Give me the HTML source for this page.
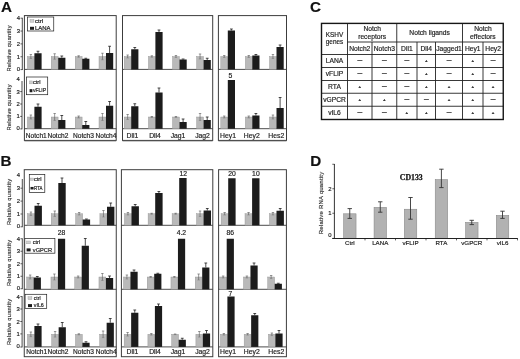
<!DOCTYPE html>
<html lang="en">
<head>
<meta charset="utf-8">
<title>Figure</title>
<style>html,body{margin:0;padding:0;background:#fff}svg{display:block;will-change:transform;opacity:0.999}</style>
</head>
<body>
<svg width="520" height="359" viewBox="0 0 520 359" font-family='"Liberation Sans", sans-serif'>
<rect x="0.00" y="0.00" width="520.00" height="359.00" fill="#fff" stroke="none" stroke-width="0.5"/>
<g opacity="0.999">
<text x="1.00" y="12.10" font-size="15.2" text-anchor="start" font-weight="bold" fill="#111" stroke="#111" stroke-width="0.18" >A</text>
<text x="0.60" y="166.30" font-size="15.2" text-anchor="start" font-weight="bold" fill="#111" stroke="#111" stroke-width="0.18" >B</text>
<text x="310.10" y="12.00" font-size="15.2" text-anchor="start" font-weight="bold" fill="#111" stroke="#111" stroke-width="0.18" >C</text>
<text x="310.20" y="166.30" font-size="15.2" text-anchor="start" font-weight="bold" fill="#111" stroke="#111" stroke-width="0.18" >D</text>
<line x1="24.40" y1="69.40" x2="116.20" y2="69.40" stroke="#1e1e1e" stroke-width="0.8"/>
<line x1="24.40" y1="128.70" x2="116.20" y2="128.70" stroke="#1e1e1e" stroke-width="0.8"/>
<line x1="122.50" y1="69.40" x2="212.70" y2="69.40" stroke="#1e1e1e" stroke-width="0.8"/>
<line x1="122.50" y1="128.70" x2="212.70" y2="128.70" stroke="#1e1e1e" stroke-width="0.8"/>
<line x1="218.40" y1="69.40" x2="286.50" y2="69.40" stroke="#1e1e1e" stroke-width="0.8"/>
<line x1="218.40" y1="128.70" x2="286.50" y2="128.70" stroke="#1e1e1e" stroke-width="0.8"/>
<rect x="27.40" y="56.50" width="6.90" height="12.90" fill="#b9b9b9" stroke="#8f8f8f" stroke-width="0.4"/>
<rect x="34.40" y="53.25" width="7.20" height="16.15" fill="#1c1c1c" stroke="none" stroke-width="0.5"/>
<line x1="30.85" y1="54.50" x2="30.85" y2="58.50" stroke="#555" stroke-width="0.6"/>
<line x1="29.65" y1="54.50" x2="32.05" y2="54.50" stroke="#555" stroke-width="0.6"/>
<line x1="29.65" y1="58.50" x2="32.05" y2="58.50" stroke="#777" stroke-width="0.5"/>
<line x1="38.00" y1="51.25" x2="38.00" y2="53.25" stroke="#1e1e1e" stroke-width="0.8"/>
<line x1="36.60" y1="51.25" x2="39.40" y2="51.25" stroke="#1e1e1e" stroke-width="0.8"/>
<rect x="51.20" y="56.50" width="6.90" height="12.90" fill="#b9b9b9" stroke="#8f8f8f" stroke-width="0.4"/>
<rect x="58.20" y="57.75" width="7.20" height="11.65" fill="#1c1c1c" stroke="none" stroke-width="0.5"/>
<line x1="54.65" y1="53.75" x2="54.65" y2="59.25" stroke="#555" stroke-width="0.6"/>
<line x1="53.45" y1="53.75" x2="55.85" y2="53.75" stroke="#555" stroke-width="0.6"/>
<line x1="53.45" y1="59.25" x2="55.85" y2="59.25" stroke="#777" stroke-width="0.5"/>
<line x1="61.80" y1="56.00" x2="61.80" y2="57.75" stroke="#1e1e1e" stroke-width="0.8"/>
<line x1="60.40" y1="56.00" x2="63.20" y2="56.00" stroke="#1e1e1e" stroke-width="0.8"/>
<rect x="75.20" y="56.50" width="6.90" height="12.90" fill="#b9b9b9" stroke="#8f8f8f" stroke-width="0.4"/>
<rect x="82.20" y="58.75" width="7.20" height="10.65" fill="#1c1c1c" stroke="none" stroke-width="0.5"/>
<line x1="78.65" y1="55.75" x2="78.65" y2="57.25" stroke="#555" stroke-width="0.6"/>
<line x1="77.45" y1="55.75" x2="79.85" y2="55.75" stroke="#555" stroke-width="0.6"/>
<line x1="77.45" y1="57.25" x2="79.85" y2="57.25" stroke="#777" stroke-width="0.5"/>
<line x1="85.80" y1="58.25" x2="85.80" y2="58.75" stroke="#1e1e1e" stroke-width="0.8"/>
<line x1="84.40" y1="58.25" x2="87.20" y2="58.25" stroke="#1e1e1e" stroke-width="0.8"/>
<rect x="99.00" y="56.50" width="6.90" height="12.90" fill="#b9b9b9" stroke="#8f8f8f" stroke-width="0.4"/>
<rect x="106.00" y="53.00" width="7.20" height="16.40" fill="#1c1c1c" stroke="none" stroke-width="0.5"/>
<line x1="102.45" y1="53.25" x2="102.45" y2="59.75" stroke="#555" stroke-width="0.6"/>
<line x1="101.25" y1="53.25" x2="103.65" y2="53.25" stroke="#555" stroke-width="0.6"/>
<line x1="101.25" y1="59.75" x2="103.65" y2="59.75" stroke="#777" stroke-width="0.5"/>
<line x1="109.60" y1="46.25" x2="109.60" y2="53.00" stroke="#1e1e1e" stroke-width="0.8"/>
<line x1="108.20" y1="46.25" x2="111.00" y2="46.25" stroke="#1e1e1e" stroke-width="0.8"/>
<rect x="124.20" y="56.50" width="6.90" height="12.90" fill="#b9b9b9" stroke="#8f8f8f" stroke-width="0.4"/>
<rect x="131.20" y="49.25" width="7.20" height="20.15" fill="#1c1c1c" stroke="none" stroke-width="0.5"/>
<line x1="127.65" y1="55.00" x2="127.65" y2="58.00" stroke="#555" stroke-width="0.6"/>
<line x1="126.45" y1="55.00" x2="128.85" y2="55.00" stroke="#555" stroke-width="0.6"/>
<line x1="126.45" y1="58.00" x2="128.85" y2="58.00" stroke="#777" stroke-width="0.5"/>
<line x1="134.80" y1="47.50" x2="134.80" y2="49.25" stroke="#1e1e1e" stroke-width="0.8"/>
<line x1="133.40" y1="47.50" x2="136.20" y2="47.50" stroke="#1e1e1e" stroke-width="0.8"/>
<rect x="148.40" y="56.50" width="6.90" height="12.90" fill="#b9b9b9" stroke="#8f8f8f" stroke-width="0.4"/>
<rect x="155.40" y="32.00" width="7.20" height="37.40" fill="#1c1c1c" stroke="none" stroke-width="0.5"/>
<line x1="151.85" y1="55.75" x2="151.85" y2="57.25" stroke="#555" stroke-width="0.6"/>
<line x1="150.65" y1="55.75" x2="153.05" y2="55.75" stroke="#555" stroke-width="0.6"/>
<line x1="150.65" y1="57.25" x2="153.05" y2="57.25" stroke="#777" stroke-width="0.5"/>
<line x1="159.00" y1="30.00" x2="159.00" y2="32.00" stroke="#1e1e1e" stroke-width="0.8"/>
<line x1="157.60" y1="30.00" x2="160.40" y2="30.00" stroke="#1e1e1e" stroke-width="0.8"/>
<rect x="172.50" y="56.50" width="6.90" height="12.90" fill="#b9b9b9" stroke="#8f8f8f" stroke-width="0.4"/>
<rect x="179.50" y="59.50" width="7.20" height="9.90" fill="#1c1c1c" stroke="none" stroke-width="0.5"/>
<line x1="175.95" y1="55.50" x2="175.95" y2="57.50" stroke="#555" stroke-width="0.6"/>
<line x1="174.75" y1="55.50" x2="177.15" y2="55.50" stroke="#555" stroke-width="0.6"/>
<line x1="174.75" y1="57.50" x2="177.15" y2="57.50" stroke="#777" stroke-width="0.5"/>
<line x1="183.10" y1="59.00" x2="183.10" y2="59.50" stroke="#1e1e1e" stroke-width="0.8"/>
<line x1="181.70" y1="59.00" x2="184.50" y2="59.00" stroke="#1e1e1e" stroke-width="0.8"/>
<rect x="196.60" y="56.50" width="6.90" height="12.90" fill="#b9b9b9" stroke="#8f8f8f" stroke-width="0.4"/>
<rect x="203.60" y="60.00" width="7.20" height="9.40" fill="#1c1c1c" stroke="none" stroke-width="0.5"/>
<line x1="200.05" y1="54.00" x2="200.05" y2="59.00" stroke="#555" stroke-width="0.6"/>
<line x1="198.85" y1="54.00" x2="201.25" y2="54.00" stroke="#555" stroke-width="0.6"/>
<line x1="198.85" y1="59.00" x2="201.25" y2="59.00" stroke="#777" stroke-width="0.5"/>
<line x1="207.20" y1="58.25" x2="207.20" y2="60.00" stroke="#1e1e1e" stroke-width="0.8"/>
<line x1="205.80" y1="58.25" x2="208.60" y2="58.25" stroke="#1e1e1e" stroke-width="0.8"/>
<rect x="220.80" y="56.50" width="6.90" height="12.90" fill="#b9b9b9" stroke="#8f8f8f" stroke-width="0.4"/>
<rect x="227.80" y="30.50" width="7.20" height="38.90" fill="#1c1c1c" stroke="none" stroke-width="0.5"/>
<line x1="224.25" y1="55.50" x2="224.25" y2="57.50" stroke="#555" stroke-width="0.6"/>
<line x1="223.05" y1="55.50" x2="225.45" y2="55.50" stroke="#555" stroke-width="0.6"/>
<line x1="223.05" y1="57.50" x2="225.45" y2="57.50" stroke="#777" stroke-width="0.5"/>
<line x1="231.40" y1="29.00" x2="231.40" y2="30.50" stroke="#1e1e1e" stroke-width="0.8"/>
<line x1="230.00" y1="29.00" x2="232.80" y2="29.00" stroke="#1e1e1e" stroke-width="0.8"/>
<rect x="245.30" y="56.50" width="6.90" height="12.90" fill="#b9b9b9" stroke="#8f8f8f" stroke-width="0.4"/>
<rect x="252.30" y="55.50" width="7.20" height="13.90" fill="#1c1c1c" stroke="none" stroke-width="0.5"/>
<line x1="248.75" y1="55.50" x2="248.75" y2="57.50" stroke="#555" stroke-width="0.6"/>
<line x1="247.55" y1="55.50" x2="249.95" y2="55.50" stroke="#555" stroke-width="0.6"/>
<line x1="247.55" y1="57.50" x2="249.95" y2="57.50" stroke="#777" stroke-width="0.5"/>
<line x1="255.90" y1="54.50" x2="255.90" y2="55.50" stroke="#1e1e1e" stroke-width="0.8"/>
<line x1="254.50" y1="54.50" x2="257.30" y2="54.50" stroke="#1e1e1e" stroke-width="0.8"/>
<rect x="269.50" y="56.50" width="6.90" height="12.90" fill="#b9b9b9" stroke="#8f8f8f" stroke-width="0.4"/>
<rect x="276.50" y="47.00" width="7.20" height="22.40" fill="#1c1c1c" stroke="none" stroke-width="0.5"/>
<line x1="272.95" y1="54.50" x2="272.95" y2="58.50" stroke="#555" stroke-width="0.6"/>
<line x1="271.75" y1="54.50" x2="274.15" y2="54.50" stroke="#555" stroke-width="0.6"/>
<line x1="271.75" y1="58.50" x2="274.15" y2="58.50" stroke="#777" stroke-width="0.5"/>
<line x1="280.10" y1="45.00" x2="280.10" y2="47.00" stroke="#1e1e1e" stroke-width="0.8"/>
<line x1="278.70" y1="45.00" x2="281.50" y2="45.00" stroke="#1e1e1e" stroke-width="0.8"/>
<rect x="27.40" y="117.00" width="6.90" height="11.70" fill="#b9b9b9" stroke="#8f8f8f" stroke-width="0.4"/>
<rect x="34.40" y="106.75" width="7.20" height="21.95" fill="#1c1c1c" stroke="none" stroke-width="0.5"/>
<line x1="30.85" y1="115.00" x2="30.85" y2="119.00" stroke="#555" stroke-width="0.6"/>
<line x1="29.65" y1="115.00" x2="32.05" y2="115.00" stroke="#555" stroke-width="0.6"/>
<line x1="29.65" y1="119.00" x2="32.05" y2="119.00" stroke="#777" stroke-width="0.5"/>
<line x1="38.00" y1="104.00" x2="38.00" y2="106.75" stroke="#1e1e1e" stroke-width="0.8"/>
<line x1="36.60" y1="104.00" x2="39.40" y2="104.00" stroke="#1e1e1e" stroke-width="0.8"/>
<rect x="51.20" y="117.00" width="6.90" height="11.70" fill="#b9b9b9" stroke="#8f8f8f" stroke-width="0.4"/>
<rect x="58.20" y="120.00" width="7.20" height="8.70" fill="#1c1c1c" stroke="none" stroke-width="0.5"/>
<line x1="54.65" y1="113.50" x2="54.65" y2="120.50" stroke="#555" stroke-width="0.6"/>
<line x1="53.45" y1="113.50" x2="55.85" y2="113.50" stroke="#555" stroke-width="0.6"/>
<line x1="53.45" y1="120.50" x2="55.85" y2="120.50" stroke="#777" stroke-width="0.5"/>
<line x1="61.80" y1="115.50" x2="61.80" y2="120.00" stroke="#1e1e1e" stroke-width="0.8"/>
<line x1="60.40" y1="115.50" x2="63.20" y2="115.50" stroke="#1e1e1e" stroke-width="0.8"/>
<rect x="75.20" y="117.00" width="6.90" height="11.70" fill="#b9b9b9" stroke="#8f8f8f" stroke-width="0.4"/>
<rect x="82.20" y="125.00" width="7.20" height="3.70" fill="#1c1c1c" stroke="none" stroke-width="0.5"/>
<line x1="78.65" y1="116.00" x2="78.65" y2="118.00" stroke="#555" stroke-width="0.6"/>
<line x1="77.45" y1="116.00" x2="79.85" y2="116.00" stroke="#555" stroke-width="0.6"/>
<line x1="77.45" y1="118.00" x2="79.85" y2="118.00" stroke="#777" stroke-width="0.5"/>
<line x1="85.80" y1="121.50" x2="85.80" y2="125.00" stroke="#1e1e1e" stroke-width="0.8"/>
<line x1="84.40" y1="121.50" x2="87.20" y2="121.50" stroke="#1e1e1e" stroke-width="0.8"/>
<rect x="99.00" y="117.00" width="6.90" height="11.70" fill="#b9b9b9" stroke="#8f8f8f" stroke-width="0.4"/>
<rect x="106.00" y="105.75" width="7.20" height="22.95" fill="#1c1c1c" stroke="none" stroke-width="0.5"/>
<line x1="102.45" y1="113.50" x2="102.45" y2="120.50" stroke="#555" stroke-width="0.6"/>
<line x1="101.25" y1="113.50" x2="103.65" y2="113.50" stroke="#555" stroke-width="0.6"/>
<line x1="101.25" y1="120.50" x2="103.65" y2="120.50" stroke="#777" stroke-width="0.5"/>
<line x1="109.60" y1="101.50" x2="109.60" y2="105.75" stroke="#1e1e1e" stroke-width="0.8"/>
<line x1="108.20" y1="101.50" x2="111.00" y2="101.50" stroke="#1e1e1e" stroke-width="0.8"/>
<rect x="124.20" y="117.00" width="6.90" height="11.70" fill="#b9b9b9" stroke="#8f8f8f" stroke-width="0.4"/>
<rect x="131.20" y="106.25" width="7.20" height="22.45" fill="#1c1c1c" stroke="none" stroke-width="0.5"/>
<line x1="127.65" y1="114.50" x2="127.65" y2="119.50" stroke="#555" stroke-width="0.6"/>
<line x1="126.45" y1="114.50" x2="128.85" y2="114.50" stroke="#555" stroke-width="0.6"/>
<line x1="126.45" y1="119.50" x2="128.85" y2="119.50" stroke="#777" stroke-width="0.5"/>
<line x1="134.80" y1="103.75" x2="134.80" y2="106.25" stroke="#1e1e1e" stroke-width="0.8"/>
<line x1="133.40" y1="103.75" x2="136.20" y2="103.75" stroke="#1e1e1e" stroke-width="0.8"/>
<rect x="148.40" y="117.00" width="6.90" height="11.70" fill="#b9b9b9" stroke="#8f8f8f" stroke-width="0.4"/>
<rect x="155.40" y="92.50" width="7.20" height="36.20" fill="#1c1c1c" stroke="none" stroke-width="0.5"/>
<line x1="151.85" y1="116.50" x2="151.85" y2="117.50" stroke="#555" stroke-width="0.6"/>
<line x1="150.65" y1="116.50" x2="153.05" y2="116.50" stroke="#555" stroke-width="0.6"/>
<line x1="150.65" y1="117.50" x2="153.05" y2="117.50" stroke="#777" stroke-width="0.5"/>
<line x1="159.00" y1="88.00" x2="159.00" y2="92.50" stroke="#1e1e1e" stroke-width="0.8"/>
<line x1="157.60" y1="88.00" x2="160.40" y2="88.00" stroke="#1e1e1e" stroke-width="0.8"/>
<rect x="172.50" y="117.00" width="6.90" height="11.70" fill="#b9b9b9" stroke="#8f8f8f" stroke-width="0.4"/>
<rect x="179.50" y="122.00" width="7.20" height="6.70" fill="#1c1c1c" stroke="none" stroke-width="0.5"/>
<line x1="175.95" y1="116.50" x2="175.95" y2="117.50" stroke="#555" stroke-width="0.6"/>
<line x1="174.75" y1="116.50" x2="177.15" y2="116.50" stroke="#555" stroke-width="0.6"/>
<line x1="174.75" y1="117.50" x2="177.15" y2="117.50" stroke="#777" stroke-width="0.5"/>
<line x1="183.10" y1="119.00" x2="183.10" y2="122.00" stroke="#1e1e1e" stroke-width="0.8"/>
<line x1="181.70" y1="119.00" x2="184.50" y2="119.00" stroke="#1e1e1e" stroke-width="0.8"/>
<rect x="196.60" y="117.00" width="6.90" height="11.70" fill="#b9b9b9" stroke="#8f8f8f" stroke-width="0.4"/>
<rect x="203.60" y="120.00" width="7.20" height="8.70" fill="#1c1c1c" stroke="none" stroke-width="0.5"/>
<line x1="200.05" y1="113.50" x2="200.05" y2="120.50" stroke="#555" stroke-width="0.6"/>
<line x1="198.85" y1="113.50" x2="201.25" y2="113.50" stroke="#555" stroke-width="0.6"/>
<line x1="198.85" y1="120.50" x2="201.25" y2="120.50" stroke="#777" stroke-width="0.5"/>
<line x1="207.20" y1="117.00" x2="207.20" y2="120.00" stroke="#1e1e1e" stroke-width="0.8"/>
<line x1="205.80" y1="117.00" x2="208.60" y2="117.00" stroke="#1e1e1e" stroke-width="0.8"/>
<rect x="220.80" y="117.00" width="6.90" height="11.70" fill="#b9b9b9" stroke="#8f8f8f" stroke-width="0.4"/>
<rect x="227.80" y="80.00" width="7.20" height="48.70" fill="#1c1c1c" stroke="none" stroke-width="0.5"/>
<line x1="224.25" y1="116.00" x2="224.25" y2="118.00" stroke="#555" stroke-width="0.6"/>
<line x1="223.05" y1="116.00" x2="225.45" y2="116.00" stroke="#555" stroke-width="0.6"/>
<line x1="223.05" y1="118.00" x2="225.45" y2="118.00" stroke="#777" stroke-width="0.5"/>
<rect x="245.30" y="117.00" width="6.90" height="11.70" fill="#b9b9b9" stroke="#8f8f8f" stroke-width="0.4"/>
<rect x="252.30" y="115.50" width="7.20" height="13.20" fill="#1c1c1c" stroke="none" stroke-width="0.5"/>
<line x1="248.75" y1="116.00" x2="248.75" y2="118.00" stroke="#555" stroke-width="0.6"/>
<line x1="247.55" y1="116.00" x2="249.95" y2="116.00" stroke="#555" stroke-width="0.6"/>
<line x1="247.55" y1="118.00" x2="249.95" y2="118.00" stroke="#777" stroke-width="0.5"/>
<line x1="255.90" y1="113.50" x2="255.90" y2="115.50" stroke="#1e1e1e" stroke-width="0.8"/>
<line x1="254.50" y1="113.50" x2="257.30" y2="113.50" stroke="#1e1e1e" stroke-width="0.8"/>
<rect x="269.50" y="117.00" width="6.90" height="11.70" fill="#b9b9b9" stroke="#8f8f8f" stroke-width="0.4"/>
<rect x="276.50" y="108.00" width="7.20" height="20.70" fill="#1c1c1c" stroke="none" stroke-width="0.5"/>
<line x1="272.95" y1="115.00" x2="272.95" y2="119.00" stroke="#555" stroke-width="0.6"/>
<line x1="271.75" y1="115.00" x2="274.15" y2="115.00" stroke="#555" stroke-width="0.6"/>
<line x1="271.75" y1="119.00" x2="274.15" y2="119.00" stroke="#777" stroke-width="0.5"/>
<line x1="280.10" y1="97.50" x2="280.10" y2="108.00" stroke="#1e1e1e" stroke-width="0.8"/>
<line x1="278.70" y1="97.50" x2="281.50" y2="97.50" stroke="#1e1e1e" stroke-width="0.8"/>
<text x="230.50" y="78.00" font-size="6.8" text-anchor="middle" font-weight="normal" fill="#222" stroke="#222" stroke-width="0.18" >5</text>
<line x1="24.40" y1="141.40" x2="116.20" y2="141.40" stroke="#c4c4c4" stroke-width="1.0"/>
<rect x="24.40" y="15.60" width="91.80" height="124.80" fill="none" stroke="#3c3c3c" stroke-width="1.0"/>
<line x1="122.50" y1="141.40" x2="212.70" y2="141.40" stroke="#c4c4c4" stroke-width="1.0"/>
<rect x="122.50" y="15.60" width="90.20" height="124.80" fill="none" stroke="#3c3c3c" stroke-width="1.0"/>
<line x1="218.40" y1="141.40" x2="286.50" y2="141.40" stroke="#c4c4c4" stroke-width="1.0"/>
<rect x="218.40" y="15.60" width="68.10" height="124.80" fill="none" stroke="#3c3c3c" stroke-width="1.0"/>
<line x1="22.30" y1="17.80" x2="22.30" y2="70.00" stroke="#1e1e1e" stroke-width="0.8"/>
<line x1="20.50" y1="18.20" x2="22.30" y2="18.20" stroke="#1e1e1e" stroke-width="0.7"/>
<text x="20.10" y="20.20" font-size="5.9" text-anchor="end" font-weight="normal" fill="#222" stroke="#222" stroke-width="0.18" >4</text>
<line x1="20.50" y1="31.05" x2="22.30" y2="31.05" stroke="#1e1e1e" stroke-width="0.7"/>
<text x="20.10" y="33.05" font-size="5.9" text-anchor="end" font-weight="normal" fill="#222" stroke="#222" stroke-width="0.18" >3</text>
<line x1="20.50" y1="43.90" x2="22.30" y2="43.90" stroke="#1e1e1e" stroke-width="0.7"/>
<text x="20.10" y="45.90" font-size="5.9" text-anchor="end" font-weight="normal" fill="#222" stroke="#222" stroke-width="0.18" >2</text>
<line x1="20.50" y1="56.75" x2="22.30" y2="56.75" stroke="#1e1e1e" stroke-width="0.7"/>
<text x="20.10" y="58.75" font-size="5.9" text-anchor="end" font-weight="normal" fill="#222" stroke="#222" stroke-width="0.18" >1</text>
<line x1="20.50" y1="69.60" x2="22.30" y2="69.60" stroke="#1e1e1e" stroke-width="0.7"/>
<text x="20.10" y="70.60" font-size="5.9" text-anchor="end" font-weight="normal" fill="#222" stroke="#222" stroke-width="0.18" >0</text>
<text transform="translate(11.00,48.50) rotate(-90)" font-size="5.7" text-anchor="middle" fill="#3a3a3a" stroke="#3a3a3a" stroke-width="0.18" textLength="46" lengthAdjust="spacing">Relative quantity</text>
<line x1="22.00" y1="81.00" x2="22.00" y2="129.30" stroke="#1e1e1e" stroke-width="0.8"/>
<text x="19.80" y="81.30" font-size="5.9" text-anchor="end" font-weight="normal" fill="#222" stroke="#222" stroke-width="0.18" >4</text>
<line x1="20.20" y1="91.60" x2="22.00" y2="91.60" stroke="#1e1e1e" stroke-width="0.7"/>
<text x="19.80" y="93.60" font-size="5.9" text-anchor="end" font-weight="normal" fill="#222" stroke="#222" stroke-width="0.18" >3</text>
<line x1="20.20" y1="104.00" x2="22.00" y2="104.00" stroke="#1e1e1e" stroke-width="0.7"/>
<text x="19.80" y="106.00" font-size="5.9" text-anchor="end" font-weight="normal" fill="#222" stroke="#222" stroke-width="0.18" >2</text>
<line x1="20.20" y1="116.40" x2="22.00" y2="116.40" stroke="#1e1e1e" stroke-width="0.7"/>
<text x="19.80" y="118.40" font-size="5.9" text-anchor="end" font-weight="normal" fill="#222" stroke="#222" stroke-width="0.18" >1</text>
<line x1="20.20" y1="128.90" x2="22.00" y2="128.90" stroke="#1e1e1e" stroke-width="0.7"/>
<text x="19.80" y="129.90" font-size="5.9" text-anchor="end" font-weight="normal" fill="#222" stroke="#222" stroke-width="0.18" >0</text>
<text transform="translate(11.00,107.50) rotate(-90)" font-size="5.7" text-anchor="middle" fill="#3a3a3a" stroke="#3a3a3a" stroke-width="0.18" textLength="46" lengthAdjust="spacing">Relative quantity</text>
<rect x="27.50" y="17.00" width="26.25" height="14.00" fill="#fff" stroke="#1e1e1e" stroke-width="0.7"/>
<rect x="30.00" y="19.50" width="3.90" height="2.80" fill="#cfcfcf" stroke="#9a9a9a" stroke-width="0.4"/>
<text x="35.00" y="22.60" font-size="5" text-anchor="start" font-weight="normal" fill="#222" stroke="#222" stroke-width="0.18" textLength="8.2" lengthAdjust="spacingAndGlyphs">ctrl</text>
<rect x="30.00" y="26.80" width="4.00" height="3.00" fill="#1c1c1c" stroke="none" stroke-width="0.5"/>
<text x="35.00" y="30.00" font-size="5" text-anchor="start" font-weight="normal" fill="#222" stroke="#222" stroke-width="0.18" textLength="15.6" lengthAdjust="spacingAndGlyphs">LANA</text>
<rect x="26.40" y="77.00" width="21.30" height="17.70" fill="#fff" stroke="#1e1e1e" stroke-width="0.7"/>
<rect x="29.60" y="80.95" width="2.70" height="2.90" fill="#cfcfcf" stroke="#9a9a9a" stroke-width="0.4"/>
<text x="32.90" y="84.10" font-size="5" text-anchor="start" font-weight="normal" fill="#222" stroke="#222" stroke-width="0.18" textLength="7.6" lengthAdjust="spacingAndGlyphs">ctrl</text>
<rect x="29.60" y="89.15" width="2.80" height="3.10" fill="#1c1c1c" stroke="none" stroke-width="0.5"/>
<text x="32.90" y="92.40" font-size="5" text-anchor="start" font-weight="normal" fill="#222" stroke="#222" stroke-width="0.18" textLength="13.2" lengthAdjust="spacingAndGlyphs">vFLIP</text>
<text x="36.30" y="137.60" font-size="6.6" text-anchor="middle" font-weight="normal" fill="#222" stroke="#222" stroke-width="0.18" >Notch1</text>
<text x="57.90" y="137.60" font-size="6.6" text-anchor="middle" font-weight="normal" fill="#222" stroke="#222" stroke-width="0.18" >Notch2</text>
<text x="83.50" y="137.60" font-size="6.6" text-anchor="middle" font-weight="normal" fill="#222" stroke="#222" stroke-width="0.18" >Notch3</text>
<text x="106.00" y="137.60" font-size="6.6" text-anchor="middle" font-weight="normal" fill="#222" stroke="#222" stroke-width="0.18" >Notch4</text>
<text x="132.40" y="137.60" font-size="6.8" text-anchor="middle" font-weight="normal" fill="#222" stroke="#222" stroke-width="0.18" >Dll1</text>
<text x="155.00" y="137.60" font-size="6.8" text-anchor="middle" font-weight="normal" fill="#222" stroke="#222" stroke-width="0.18" >Dll4</text>
<text x="178.00" y="137.60" font-size="6.8" text-anchor="middle" font-weight="normal" fill="#222" stroke="#222" stroke-width="0.18" >Jag1</text>
<text x="202.50" y="137.60" font-size="6.8" text-anchor="middle" font-weight="normal" fill="#222" stroke="#222" stroke-width="0.18" >Jag2</text>
<text x="228.00" y="137.60" font-size="6.8" text-anchor="middle" font-weight="normal" fill="#222" stroke="#222" stroke-width="0.18" >Hey1</text>
<text x="251.75" y="137.60" font-size="6.8" text-anchor="middle" font-weight="normal" fill="#222" stroke="#222" stroke-width="0.18" >Hey2</text>
<text x="276.25" y="137.60" font-size="6.8" text-anchor="middle" font-weight="normal" fill="#222" stroke="#222" stroke-width="0.18" >Hes2</text>
<line x1="24.25" y1="225.30" x2="116.25" y2="225.30" stroke="#1e1e1e" stroke-width="0.8"/>
<line x1="24.25" y1="289.30" x2="116.25" y2="289.30" stroke="#1e1e1e" stroke-width="0.8"/>
<line x1="24.25" y1="346.90" x2="116.25" y2="346.90" stroke="#1e1e1e" stroke-width="0.8"/>
<line x1="121.40" y1="225.30" x2="212.80" y2="225.30" stroke="#1e1e1e" stroke-width="0.8"/>
<line x1="121.40" y1="289.30" x2="212.80" y2="289.30" stroke="#1e1e1e" stroke-width="0.8"/>
<line x1="121.40" y1="346.90" x2="212.80" y2="346.90" stroke="#1e1e1e" stroke-width="0.8"/>
<line x1="218.60" y1="225.30" x2="286.40" y2="225.30" stroke="#1e1e1e" stroke-width="0.8"/>
<line x1="218.60" y1="289.30" x2="286.40" y2="289.30" stroke="#1e1e1e" stroke-width="0.8"/>
<line x1="218.60" y1="346.90" x2="286.40" y2="346.90" stroke="#1e1e1e" stroke-width="0.8"/>
<rect x="27.40" y="213.75" width="7.10" height="11.55" fill="#b9b9b9" stroke="#8f8f8f" stroke-width="0.4"/>
<rect x="34.50" y="205.75" width="7.40" height="19.55" fill="#1c1c1c" stroke="none" stroke-width="0.5"/>
<line x1="30.95" y1="212.00" x2="30.95" y2="215.50" stroke="#555" stroke-width="0.6"/>
<line x1="29.75" y1="212.00" x2="32.15" y2="212.00" stroke="#555" stroke-width="0.6"/>
<line x1="29.75" y1="215.50" x2="32.15" y2="215.50" stroke="#777" stroke-width="0.5"/>
<line x1="38.20" y1="203.50" x2="38.20" y2="205.75" stroke="#1e1e1e" stroke-width="0.8"/>
<line x1="36.80" y1="203.50" x2="39.60" y2="203.50" stroke="#1e1e1e" stroke-width="0.8"/>
<rect x="51.20" y="213.75" width="7.10" height="11.55" fill="#b9b9b9" stroke="#8f8f8f" stroke-width="0.4"/>
<rect x="58.30" y="183.00" width="7.40" height="42.30" fill="#1c1c1c" stroke="none" stroke-width="0.5"/>
<line x1="54.75" y1="211.00" x2="54.75" y2="216.50" stroke="#555" stroke-width="0.6"/>
<line x1="53.55" y1="211.00" x2="55.95" y2="211.00" stroke="#555" stroke-width="0.6"/>
<line x1="53.55" y1="216.50" x2="55.95" y2="216.50" stroke="#777" stroke-width="0.5"/>
<line x1="62.00" y1="178.00" x2="62.00" y2="183.00" stroke="#1e1e1e" stroke-width="0.8"/>
<line x1="60.60" y1="178.00" x2="63.40" y2="178.00" stroke="#1e1e1e" stroke-width="0.8"/>
<rect x="75.60" y="213.75" width="7.10" height="11.55" fill="#b9b9b9" stroke="#8f8f8f" stroke-width="0.4"/>
<rect x="82.70" y="219.50" width="7.40" height="5.80" fill="#1c1c1c" stroke="none" stroke-width="0.5"/>
<line x1="79.15" y1="212.50" x2="79.15" y2="215.00" stroke="#555" stroke-width="0.6"/>
<line x1="77.95" y1="212.50" x2="80.35" y2="212.50" stroke="#555" stroke-width="0.6"/>
<line x1="77.95" y1="215.00" x2="80.35" y2="215.00" stroke="#777" stroke-width="0.5"/>
<line x1="86.40" y1="219.00" x2="86.40" y2="219.50" stroke="#1e1e1e" stroke-width="0.8"/>
<line x1="85.00" y1="219.00" x2="87.80" y2="219.00" stroke="#1e1e1e" stroke-width="0.8"/>
<rect x="99.90" y="213.75" width="7.10" height="11.55" fill="#b9b9b9" stroke="#8f8f8f" stroke-width="0.4"/>
<rect x="107.00" y="206.75" width="7.40" height="18.55" fill="#1c1c1c" stroke="none" stroke-width="0.5"/>
<line x1="103.45" y1="210.50" x2="103.45" y2="217.00" stroke="#555" stroke-width="0.6"/>
<line x1="102.25" y1="210.50" x2="104.65" y2="210.50" stroke="#555" stroke-width="0.6"/>
<line x1="102.25" y1="217.00" x2="104.65" y2="217.00" stroke="#777" stroke-width="0.5"/>
<line x1="110.70" y1="203.00" x2="110.70" y2="206.75" stroke="#1e1e1e" stroke-width="0.8"/>
<line x1="109.30" y1="203.00" x2="112.10" y2="203.00" stroke="#1e1e1e" stroke-width="0.8"/>
<rect x="124.40" y="213.75" width="7.10" height="11.55" fill="#b9b9b9" stroke="#8f8f8f" stroke-width="0.4"/>
<rect x="131.50" y="206.25" width="7.40" height="19.05" fill="#1c1c1c" stroke="none" stroke-width="0.5"/>
<line x1="127.95" y1="212.50" x2="127.95" y2="215.00" stroke="#555" stroke-width="0.6"/>
<line x1="126.75" y1="212.50" x2="129.15" y2="212.50" stroke="#555" stroke-width="0.6"/>
<line x1="126.75" y1="215.00" x2="129.15" y2="215.00" stroke="#777" stroke-width="0.5"/>
<line x1="135.20" y1="204.50" x2="135.20" y2="206.25" stroke="#1e1e1e" stroke-width="0.8"/>
<line x1="133.80" y1="204.50" x2="136.60" y2="204.50" stroke="#1e1e1e" stroke-width="0.8"/>
<rect x="148.10" y="213.75" width="7.10" height="11.55" fill="#b9b9b9" stroke="#8f8f8f" stroke-width="0.4"/>
<rect x="155.20" y="193.00" width="7.40" height="32.30" fill="#1c1c1c" stroke="none" stroke-width="0.5"/>
<line x1="151.65" y1="213.25" x2="151.65" y2="214.25" stroke="#555" stroke-width="0.6"/>
<line x1="150.45" y1="213.25" x2="152.85" y2="213.25" stroke="#555" stroke-width="0.6"/>
<line x1="150.45" y1="214.25" x2="152.85" y2="214.25" stroke="#777" stroke-width="0.5"/>
<line x1="158.90" y1="191.50" x2="158.90" y2="193.00" stroke="#1e1e1e" stroke-width="0.8"/>
<line x1="157.50" y1="191.50" x2="160.30" y2="191.50" stroke="#1e1e1e" stroke-width="0.8"/>
<rect x="172.10" y="213.75" width="7.10" height="11.55" fill="#b9b9b9" stroke="#8f8f8f" stroke-width="0.4"/>
<rect x="179.20" y="178.00" width="7.40" height="47.30" fill="#1c1c1c" stroke="none" stroke-width="0.5"/>
<line x1="175.65" y1="213.25" x2="175.65" y2="214.25" stroke="#555" stroke-width="0.6"/>
<line x1="174.45" y1="213.25" x2="176.85" y2="213.25" stroke="#555" stroke-width="0.6"/>
<line x1="174.45" y1="214.25" x2="176.85" y2="214.25" stroke="#777" stroke-width="0.5"/>
<rect x="196.50" y="213.75" width="7.10" height="11.55" fill="#b9b9b9" stroke="#8f8f8f" stroke-width="0.4"/>
<rect x="203.60" y="210.50" width="7.40" height="14.80" fill="#1c1c1c" stroke="none" stroke-width="0.5"/>
<line x1="200.05" y1="211.00" x2="200.05" y2="216.50" stroke="#555" stroke-width="0.6"/>
<line x1="198.85" y1="211.00" x2="201.25" y2="211.00" stroke="#555" stroke-width="0.6"/>
<line x1="198.85" y1="216.50" x2="201.25" y2="216.50" stroke="#777" stroke-width="0.5"/>
<line x1="207.30" y1="208.50" x2="207.30" y2="210.50" stroke="#1e1e1e" stroke-width="0.8"/>
<line x1="205.90" y1="208.50" x2="208.70" y2="208.50" stroke="#1e1e1e" stroke-width="0.8"/>
<rect x="221.10" y="213.75" width="7.10" height="11.55" fill="#b9b9b9" stroke="#8f8f8f" stroke-width="0.4"/>
<rect x="228.20" y="178.25" width="7.40" height="47.05" fill="#1c1c1c" stroke="none" stroke-width="0.5"/>
<line x1="224.65" y1="212.50" x2="224.65" y2="215.00" stroke="#555" stroke-width="0.6"/>
<line x1="223.45" y1="212.50" x2="225.85" y2="212.50" stroke="#555" stroke-width="0.6"/>
<line x1="223.45" y1="215.00" x2="225.85" y2="215.00" stroke="#777" stroke-width="0.5"/>
<rect x="245.00" y="213.75" width="7.10" height="11.55" fill="#b9b9b9" stroke="#8f8f8f" stroke-width="0.4"/>
<rect x="252.10" y="178.25" width="7.40" height="47.05" fill="#1c1c1c" stroke="none" stroke-width="0.5"/>
<line x1="248.55" y1="212.50" x2="248.55" y2="215.00" stroke="#555" stroke-width="0.6"/>
<line x1="247.35" y1="212.50" x2="249.75" y2="212.50" stroke="#555" stroke-width="0.6"/>
<line x1="247.35" y1="215.00" x2="249.75" y2="215.00" stroke="#777" stroke-width="0.5"/>
<rect x="269.40" y="213.75" width="7.10" height="11.55" fill="#b9b9b9" stroke="#8f8f8f" stroke-width="0.4"/>
<rect x="276.50" y="210.75" width="7.40" height="14.55" fill="#1c1c1c" stroke="none" stroke-width="0.5"/>
<line x1="272.95" y1="212.50" x2="272.95" y2="215.00" stroke="#555" stroke-width="0.6"/>
<line x1="271.75" y1="212.50" x2="274.15" y2="212.50" stroke="#555" stroke-width="0.6"/>
<line x1="271.75" y1="215.00" x2="274.15" y2="215.00" stroke="#777" stroke-width="0.5"/>
<line x1="280.20" y1="208.50" x2="280.20" y2="210.75" stroke="#1e1e1e" stroke-width="0.8"/>
<line x1="278.80" y1="208.50" x2="281.60" y2="208.50" stroke="#1e1e1e" stroke-width="0.8"/>
<text x="183.20" y="175.50" font-size="6.8" text-anchor="middle" font-weight="normal" fill="#222" stroke="#222" stroke-width="0.18" >12</text>
<text x="232.10" y="175.50" font-size="6.8" text-anchor="middle" font-weight="normal" fill="#222" stroke="#222" stroke-width="0.18" >20</text>
<text x="255.90" y="175.50" font-size="6.8" text-anchor="middle" font-weight="normal" fill="#222" stroke="#222" stroke-width="0.18" >10</text>
<rect x="26.70" y="277.00" width="6.90" height="12.30" fill="#b9b9b9" stroke="#8f8f8f" stroke-width="0.4"/>
<rect x="33.70" y="277.50" width="7.20" height="11.80" fill="#1c1c1c" stroke="none" stroke-width="0.5"/>
<line x1="30.15" y1="275.00" x2="30.15" y2="279.00" stroke="#555" stroke-width="0.6"/>
<line x1="28.95" y1="275.00" x2="31.35" y2="275.00" stroke="#555" stroke-width="0.6"/>
<line x1="28.95" y1="279.00" x2="31.35" y2="279.00" stroke="#777" stroke-width="0.5"/>
<line x1="37.30" y1="276.50" x2="37.30" y2="277.50" stroke="#1e1e1e" stroke-width="0.8"/>
<line x1="35.90" y1="276.50" x2="38.70" y2="276.50" stroke="#1e1e1e" stroke-width="0.8"/>
<rect x="50.95" y="277.00" width="6.90" height="12.30" fill="#b9b9b9" stroke="#8f8f8f" stroke-width="0.4"/>
<rect x="57.95" y="238.75" width="7.20" height="50.55" fill="#1c1c1c" stroke="none" stroke-width="0.5"/>
<line x1="54.40" y1="274.00" x2="54.40" y2="280.00" stroke="#555" stroke-width="0.6"/>
<line x1="53.20" y1="274.00" x2="55.60" y2="274.00" stroke="#555" stroke-width="0.6"/>
<line x1="53.20" y1="280.00" x2="55.60" y2="280.00" stroke="#777" stroke-width="0.5"/>
<rect x="74.70" y="277.00" width="6.90" height="12.30" fill="#b9b9b9" stroke="#8f8f8f" stroke-width="0.4"/>
<rect x="81.70" y="245.75" width="7.20" height="43.55" fill="#1c1c1c" stroke="none" stroke-width="0.5"/>
<line x1="78.15" y1="276.00" x2="78.15" y2="278.00" stroke="#555" stroke-width="0.6"/>
<line x1="76.95" y1="276.00" x2="79.35" y2="276.00" stroke="#555" stroke-width="0.6"/>
<line x1="76.95" y1="278.00" x2="79.35" y2="278.00" stroke="#777" stroke-width="0.5"/>
<line x1="85.30" y1="238.50" x2="85.30" y2="245.75" stroke="#1e1e1e" stroke-width="0.8"/>
<line x1="83.90" y1="238.50" x2="86.70" y2="238.50" stroke="#1e1e1e" stroke-width="0.8"/>
<rect x="98.95" y="277.00" width="6.90" height="12.30" fill="#b9b9b9" stroke="#8f8f8f" stroke-width="0.4"/>
<rect x="105.95" y="278.00" width="7.20" height="11.30" fill="#1c1c1c" stroke="none" stroke-width="0.5"/>
<line x1="102.40" y1="273.50" x2="102.40" y2="280.50" stroke="#555" stroke-width="0.6"/>
<line x1="101.20" y1="273.50" x2="103.60" y2="273.50" stroke="#555" stroke-width="0.6"/>
<line x1="101.20" y1="280.50" x2="103.60" y2="280.50" stroke="#777" stroke-width="0.5"/>
<line x1="109.55" y1="276.00" x2="109.55" y2="278.00" stroke="#1e1e1e" stroke-width="0.8"/>
<line x1="108.15" y1="276.00" x2="110.95" y2="276.00" stroke="#1e1e1e" stroke-width="0.8"/>
<rect x="123.45" y="277.00" width="6.90" height="12.30" fill="#b9b9b9" stroke="#8f8f8f" stroke-width="0.4"/>
<rect x="130.45" y="271.75" width="7.20" height="17.55" fill="#1c1c1c" stroke="none" stroke-width="0.5"/>
<line x1="126.90" y1="275.00" x2="126.90" y2="279.00" stroke="#555" stroke-width="0.6"/>
<line x1="125.70" y1="275.00" x2="128.10" y2="275.00" stroke="#555" stroke-width="0.6"/>
<line x1="125.70" y1="279.00" x2="128.10" y2="279.00" stroke="#777" stroke-width="0.5"/>
<line x1="134.05" y1="270.00" x2="134.05" y2="271.75" stroke="#1e1e1e" stroke-width="0.8"/>
<line x1="132.65" y1="270.00" x2="135.45" y2="270.00" stroke="#1e1e1e" stroke-width="0.8"/>
<rect x="147.20" y="277.00" width="6.90" height="12.30" fill="#b9b9b9" stroke="#8f8f8f" stroke-width="0.4"/>
<rect x="154.20" y="273.75" width="7.20" height="15.55" fill="#1c1c1c" stroke="none" stroke-width="0.5"/>
<line x1="150.65" y1="276.50" x2="150.65" y2="277.50" stroke="#555" stroke-width="0.6"/>
<line x1="149.45" y1="276.50" x2="151.85" y2="276.50" stroke="#555" stroke-width="0.6"/>
<line x1="149.45" y1="277.50" x2="151.85" y2="277.50" stroke="#777" stroke-width="0.5"/>
<line x1="157.80" y1="273.25" x2="157.80" y2="273.75" stroke="#1e1e1e" stroke-width="0.8"/>
<line x1="156.40" y1="273.25" x2="159.20" y2="273.25" stroke="#1e1e1e" stroke-width="0.8"/>
<rect x="170.95" y="277.00" width="6.90" height="12.30" fill="#b9b9b9" stroke="#8f8f8f" stroke-width="0.4"/>
<rect x="177.95" y="238.75" width="7.20" height="50.55" fill="#1c1c1c" stroke="none" stroke-width="0.5"/>
<line x1="174.40" y1="276.50" x2="174.40" y2="277.50" stroke="#555" stroke-width="0.6"/>
<line x1="173.20" y1="276.50" x2="175.60" y2="276.50" stroke="#555" stroke-width="0.6"/>
<line x1="173.20" y1="277.50" x2="175.60" y2="277.50" stroke="#777" stroke-width="0.5"/>
<rect x="195.20" y="277.00" width="6.90" height="12.30" fill="#b9b9b9" stroke="#8f8f8f" stroke-width="0.4"/>
<rect x="202.20" y="267.50" width="7.20" height="21.80" fill="#1c1c1c" stroke="none" stroke-width="0.5"/>
<line x1="198.65" y1="274.00" x2="198.65" y2="280.00" stroke="#555" stroke-width="0.6"/>
<line x1="197.45" y1="274.00" x2="199.85" y2="274.00" stroke="#555" stroke-width="0.6"/>
<line x1="197.45" y1="280.00" x2="199.85" y2="280.00" stroke="#777" stroke-width="0.5"/>
<line x1="205.80" y1="263.00" x2="205.80" y2="267.50" stroke="#1e1e1e" stroke-width="0.8"/>
<line x1="204.40" y1="263.00" x2="207.20" y2="263.00" stroke="#1e1e1e" stroke-width="0.8"/>
<rect x="219.70" y="277.00" width="6.90" height="12.30" fill="#b9b9b9" stroke="#8f8f8f" stroke-width="0.4"/>
<rect x="226.70" y="238.75" width="7.20" height="50.55" fill="#1c1c1c" stroke="none" stroke-width="0.5"/>
<line x1="223.15" y1="276.00" x2="223.15" y2="278.00" stroke="#555" stroke-width="0.6"/>
<line x1="221.95" y1="276.00" x2="224.35" y2="276.00" stroke="#555" stroke-width="0.6"/>
<line x1="221.95" y1="278.00" x2="224.35" y2="278.00" stroke="#777" stroke-width="0.5"/>
<rect x="243.45" y="277.00" width="6.90" height="12.30" fill="#b9b9b9" stroke="#8f8f8f" stroke-width="0.4"/>
<rect x="250.45" y="265.50" width="7.20" height="23.80" fill="#1c1c1c" stroke="none" stroke-width="0.5"/>
<line x1="246.90" y1="276.00" x2="246.90" y2="278.00" stroke="#555" stroke-width="0.6"/>
<line x1="245.70" y1="276.00" x2="248.10" y2="276.00" stroke="#555" stroke-width="0.6"/>
<line x1="245.70" y1="278.00" x2="248.10" y2="278.00" stroke="#777" stroke-width="0.5"/>
<line x1="254.05" y1="263.00" x2="254.05" y2="265.50" stroke="#1e1e1e" stroke-width="0.8"/>
<line x1="252.65" y1="263.00" x2="255.45" y2="263.00" stroke="#1e1e1e" stroke-width="0.8"/>
<rect x="267.70" y="277.00" width="6.90" height="12.30" fill="#b9b9b9" stroke="#8f8f8f" stroke-width="0.4"/>
<rect x="274.70" y="283.75" width="7.20" height="5.55" fill="#1c1c1c" stroke="none" stroke-width="0.5"/>
<line x1="271.15" y1="275.50" x2="271.15" y2="278.50" stroke="#555" stroke-width="0.6"/>
<line x1="269.95" y1="275.50" x2="272.35" y2="275.50" stroke="#555" stroke-width="0.6"/>
<line x1="269.95" y1="278.50" x2="272.35" y2="278.50" stroke="#777" stroke-width="0.5"/>
<line x1="278.30" y1="283.25" x2="278.30" y2="283.75" stroke="#1e1e1e" stroke-width="0.8"/>
<line x1="276.90" y1="283.25" x2="279.70" y2="283.25" stroke="#1e1e1e" stroke-width="0.8"/>
<text x="61.60" y="235.10" font-size="6.8" text-anchor="middle" font-weight="normal" fill="#222" stroke="#222" stroke-width="0.18" >28</text>
<text x="181.40" y="235.10" font-size="6.8" text-anchor="middle" font-weight="normal" fill="#222" stroke="#222" stroke-width="0.18" >4.2</text>
<text x="230.20" y="235.10" font-size="6.8" text-anchor="middle" font-weight="normal" fill="#222" stroke="#222" stroke-width="0.18" >86</text>
<rect x="27.40" y="334.30" width="6.90" height="12.60" fill="#b9b9b9" stroke="#8f8f8f" stroke-width="0.4"/>
<rect x="34.40" y="326.00" width="7.20" height="20.90" fill="#1c1c1c" stroke="none" stroke-width="0.5"/>
<line x1="30.85" y1="332.00" x2="30.85" y2="336.60" stroke="#555" stroke-width="0.6"/>
<line x1="29.65" y1="332.00" x2="32.05" y2="332.00" stroke="#555" stroke-width="0.6"/>
<line x1="29.65" y1="336.60" x2="32.05" y2="336.60" stroke="#777" stroke-width="0.5"/>
<line x1="38.00" y1="324.00" x2="38.00" y2="326.00" stroke="#1e1e1e" stroke-width="0.8"/>
<line x1="36.60" y1="324.00" x2="39.40" y2="324.00" stroke="#1e1e1e" stroke-width="0.8"/>
<rect x="51.65" y="334.30" width="6.90" height="12.60" fill="#b9b9b9" stroke="#8f8f8f" stroke-width="0.4"/>
<rect x="58.65" y="327.25" width="7.20" height="19.65" fill="#1c1c1c" stroke="none" stroke-width="0.5"/>
<line x1="55.10" y1="331.50" x2="55.10" y2="337.10" stroke="#555" stroke-width="0.6"/>
<line x1="53.90" y1="331.50" x2="56.30" y2="331.50" stroke="#555" stroke-width="0.6"/>
<line x1="53.90" y1="337.10" x2="56.30" y2="337.10" stroke="#777" stroke-width="0.5"/>
<line x1="62.25" y1="322.50" x2="62.25" y2="327.25" stroke="#1e1e1e" stroke-width="0.8"/>
<line x1="60.85" y1="322.50" x2="63.65" y2="322.50" stroke="#1e1e1e" stroke-width="0.8"/>
<rect x="75.40" y="334.30" width="6.90" height="12.60" fill="#b9b9b9" stroke="#8f8f8f" stroke-width="0.4"/>
<rect x="82.40" y="342.75" width="7.20" height="4.15" fill="#1c1c1c" stroke="none" stroke-width="0.5"/>
<line x1="78.85" y1="333.75" x2="78.85" y2="334.85" stroke="#555" stroke-width="0.6"/>
<line x1="77.65" y1="333.75" x2="80.05" y2="333.75" stroke="#555" stroke-width="0.6"/>
<line x1="77.65" y1="334.85" x2="80.05" y2="334.85" stroke="#777" stroke-width="0.5"/>
<line x1="86.00" y1="341.75" x2="86.00" y2="342.75" stroke="#1e1e1e" stroke-width="0.8"/>
<line x1="84.60" y1="341.75" x2="87.40" y2="341.75" stroke="#1e1e1e" stroke-width="0.8"/>
<rect x="99.65" y="334.30" width="6.90" height="12.60" fill="#b9b9b9" stroke="#8f8f8f" stroke-width="0.4"/>
<rect x="106.65" y="322.75" width="7.20" height="24.15" fill="#1c1c1c" stroke="none" stroke-width="0.5"/>
<line x1="103.10" y1="331.00" x2="103.10" y2="337.60" stroke="#555" stroke-width="0.6"/>
<line x1="101.90" y1="331.00" x2="104.30" y2="331.00" stroke="#555" stroke-width="0.6"/>
<line x1="101.90" y1="337.60" x2="104.30" y2="337.60" stroke="#777" stroke-width="0.5"/>
<line x1="110.25" y1="318.50" x2="110.25" y2="322.75" stroke="#1e1e1e" stroke-width="0.8"/>
<line x1="108.85" y1="318.50" x2="111.65" y2="318.50" stroke="#1e1e1e" stroke-width="0.8"/>
<rect x="124.15" y="334.30" width="6.90" height="12.60" fill="#b9b9b9" stroke="#8f8f8f" stroke-width="0.4"/>
<rect x="131.15" y="312.75" width="7.20" height="34.15" fill="#1c1c1c" stroke="none" stroke-width="0.5"/>
<line x1="127.60" y1="332.50" x2="127.60" y2="336.10" stroke="#555" stroke-width="0.6"/>
<line x1="126.40" y1="332.50" x2="128.80" y2="332.50" stroke="#555" stroke-width="0.6"/>
<line x1="126.40" y1="336.10" x2="128.80" y2="336.10" stroke="#777" stroke-width="0.5"/>
<line x1="134.75" y1="310.00" x2="134.75" y2="312.75" stroke="#1e1e1e" stroke-width="0.8"/>
<line x1="133.35" y1="310.00" x2="136.15" y2="310.00" stroke="#1e1e1e" stroke-width="0.8"/>
<rect x="147.90" y="334.30" width="6.90" height="12.60" fill="#b9b9b9" stroke="#8f8f8f" stroke-width="0.4"/>
<rect x="154.90" y="306.00" width="7.20" height="40.90" fill="#1c1c1c" stroke="none" stroke-width="0.5"/>
<line x1="151.35" y1="333.50" x2="151.35" y2="335.10" stroke="#555" stroke-width="0.6"/>
<line x1="150.15" y1="333.50" x2="152.55" y2="333.50" stroke="#555" stroke-width="0.6"/>
<line x1="150.15" y1="335.10" x2="152.55" y2="335.10" stroke="#777" stroke-width="0.5"/>
<line x1="158.50" y1="304.00" x2="158.50" y2="306.00" stroke="#1e1e1e" stroke-width="0.8"/>
<line x1="157.10" y1="304.00" x2="159.90" y2="304.00" stroke="#1e1e1e" stroke-width="0.8"/>
<rect x="171.65" y="334.30" width="6.90" height="12.60" fill="#b9b9b9" stroke="#8f8f8f" stroke-width="0.4"/>
<rect x="178.65" y="339.75" width="7.20" height="7.15" fill="#1c1c1c" stroke="none" stroke-width="0.5"/>
<line x1="175.10" y1="334.00" x2="175.10" y2="334.60" stroke="#555" stroke-width="0.6"/>
<line x1="173.90" y1="334.00" x2="176.30" y2="334.00" stroke="#555" stroke-width="0.6"/>
<line x1="173.90" y1="334.60" x2="176.30" y2="334.60" stroke="#777" stroke-width="0.5"/>
<line x1="182.25" y1="338.25" x2="182.25" y2="339.75" stroke="#1e1e1e" stroke-width="0.8"/>
<line x1="180.85" y1="338.25" x2="183.65" y2="338.25" stroke="#1e1e1e" stroke-width="0.8"/>
<rect x="195.90" y="334.30" width="6.90" height="12.60" fill="#b9b9b9" stroke="#8f8f8f" stroke-width="0.4"/>
<rect x="202.90" y="333.50" width="7.20" height="13.40" fill="#1c1c1c" stroke="none" stroke-width="0.5"/>
<line x1="199.35" y1="331.50" x2="199.35" y2="337.10" stroke="#555" stroke-width="0.6"/>
<line x1="198.15" y1="331.50" x2="200.55" y2="331.50" stroke="#555" stroke-width="0.6"/>
<line x1="198.15" y1="337.10" x2="200.55" y2="337.10" stroke="#777" stroke-width="0.5"/>
<line x1="206.50" y1="330.50" x2="206.50" y2="333.50" stroke="#1e1e1e" stroke-width="0.8"/>
<line x1="205.10" y1="330.50" x2="207.90" y2="330.50" stroke="#1e1e1e" stroke-width="0.8"/>
<rect x="220.40" y="334.30" width="6.90" height="12.60" fill="#b9b9b9" stroke="#8f8f8f" stroke-width="0.4"/>
<rect x="227.40" y="296.50" width="7.20" height="50.40" fill="#1c1c1c" stroke="none" stroke-width="0.5"/>
<line x1="223.85" y1="333.50" x2="223.85" y2="335.10" stroke="#555" stroke-width="0.6"/>
<line x1="222.65" y1="333.50" x2="225.05" y2="333.50" stroke="#555" stroke-width="0.6"/>
<line x1="222.65" y1="335.10" x2="225.05" y2="335.10" stroke="#777" stroke-width="0.5"/>
<rect x="244.15" y="334.30" width="6.90" height="12.60" fill="#b9b9b9" stroke="#8f8f8f" stroke-width="0.4"/>
<rect x="251.15" y="315.25" width="7.20" height="31.65" fill="#1c1c1c" stroke="none" stroke-width="0.5"/>
<line x1="247.60" y1="333.50" x2="247.60" y2="335.10" stroke="#555" stroke-width="0.6"/>
<line x1="246.40" y1="333.50" x2="248.80" y2="333.50" stroke="#555" stroke-width="0.6"/>
<line x1="246.40" y1="335.10" x2="248.80" y2="335.10" stroke="#777" stroke-width="0.5"/>
<line x1="254.75" y1="313.50" x2="254.75" y2="315.25" stroke="#1e1e1e" stroke-width="0.8"/>
<line x1="253.35" y1="313.50" x2="256.15" y2="313.50" stroke="#1e1e1e" stroke-width="0.8"/>
<rect x="268.40" y="334.30" width="6.90" height="12.60" fill="#b9b9b9" stroke="#8f8f8f" stroke-width="0.4"/>
<rect x="275.40" y="333.50" width="7.20" height="13.40" fill="#1c1c1c" stroke="none" stroke-width="0.5"/>
<line x1="271.85" y1="333.00" x2="271.85" y2="335.60" stroke="#555" stroke-width="0.6"/>
<line x1="270.65" y1="333.00" x2="273.05" y2="333.00" stroke="#555" stroke-width="0.6"/>
<line x1="270.65" y1="335.60" x2="273.05" y2="335.60" stroke="#777" stroke-width="0.5"/>
<line x1="279.00" y1="330.50" x2="279.00" y2="333.50" stroke="#1e1e1e" stroke-width="0.8"/>
<line x1="277.60" y1="330.50" x2="280.40" y2="330.50" stroke="#1e1e1e" stroke-width="0.8"/>
<text x="230.50" y="295.80" font-size="6.8" text-anchor="middle" font-weight="normal" fill="#222" stroke="#222" stroke-width="0.18" >7</text>
<rect x="24.25" y="169.70" width="92.00" height="187.00" fill="none" stroke="#3c3c3c" stroke-width="1.0"/>
<rect x="121.40" y="169.70" width="91.40" height="187.00" fill="none" stroke="#3c3c3c" stroke-width="1.0"/>
<rect x="218.60" y="169.70" width="67.80" height="187.00" fill="none" stroke="#3c3c3c" stroke-width="1.0"/>
<line x1="22.30" y1="179.00" x2="22.30" y2="227.20" stroke="#1e1e1e" stroke-width="0.8"/>
<text x="20.10" y="177.30" font-size="5.9" text-anchor="end" font-weight="normal" fill="#222" stroke="#222" stroke-width="0.18" >4</text>
<line x1="20.50" y1="188.20" x2="22.30" y2="188.20" stroke="#1e1e1e" stroke-width="0.7"/>
<text x="20.10" y="190.20" font-size="5.9" text-anchor="end" font-weight="normal" fill="#222" stroke="#222" stroke-width="0.18" >3</text>
<line x1="20.50" y1="201.10" x2="22.30" y2="201.10" stroke="#1e1e1e" stroke-width="0.7"/>
<text x="20.10" y="203.10" font-size="5.9" text-anchor="end" font-weight="normal" fill="#222" stroke="#222" stroke-width="0.18" >2</text>
<line x1="20.50" y1="214.00" x2="22.30" y2="214.00" stroke="#1e1e1e" stroke-width="0.7"/>
<text x="20.10" y="216.00" font-size="5.9" text-anchor="end" font-weight="normal" fill="#222" stroke="#222" stroke-width="0.18" >1</text>
<line x1="20.50" y1="226.80" x2="22.30" y2="226.80" stroke="#1e1e1e" stroke-width="0.7"/>
<text x="20.10" y="227.80" font-size="5.9" text-anchor="end" font-weight="normal" fill="#222" stroke="#222" stroke-width="0.18" >0</text>
<text transform="translate(11.00,202.00) rotate(-90)" font-size="5.7" text-anchor="middle" fill="#3a3a3a" stroke="#3a3a3a" stroke-width="0.18" textLength="46" lengthAdjust="spacing">Relative quantity</text>
<line x1="22.30" y1="238.35" x2="22.30" y2="289.15" stroke="#1e1e1e" stroke-width="0.8"/>
<line x1="20.50" y1="238.75" x2="22.30" y2="238.75" stroke="#1e1e1e" stroke-width="0.7"/>
<text x="20.10" y="240.75" font-size="5.9" text-anchor="end" font-weight="normal" fill="#222" stroke="#222" stroke-width="0.18" >4</text>
<line x1="20.50" y1="251.25" x2="22.30" y2="251.25" stroke="#1e1e1e" stroke-width="0.7"/>
<text x="20.10" y="253.25" font-size="5.9" text-anchor="end" font-weight="normal" fill="#222" stroke="#222" stroke-width="0.18" >3</text>
<line x1="20.50" y1="263.75" x2="22.30" y2="263.75" stroke="#1e1e1e" stroke-width="0.7"/>
<text x="20.10" y="265.75" font-size="5.9" text-anchor="end" font-weight="normal" fill="#222" stroke="#222" stroke-width="0.18" >2</text>
<line x1="20.50" y1="276.25" x2="22.30" y2="276.25" stroke="#1e1e1e" stroke-width="0.7"/>
<text x="20.10" y="278.25" font-size="5.9" text-anchor="end" font-weight="normal" fill="#222" stroke="#222" stroke-width="0.18" >1</text>
<line x1="20.50" y1="288.75" x2="22.30" y2="288.75" stroke="#1e1e1e" stroke-width="0.7"/>
<text x="20.10" y="289.75" font-size="5.9" text-anchor="end" font-weight="normal" fill="#222" stroke="#222" stroke-width="0.18" >0</text>
<text transform="translate(11.00,263.00) rotate(-90)" font-size="5.7" text-anchor="middle" fill="#3a3a3a" stroke="#3a3a3a" stroke-width="0.18" textLength="46" lengthAdjust="spacing">Relative quantity</text>
<line x1="22.10" y1="296.20" x2="22.10" y2="347.40" stroke="#1e1e1e" stroke-width="0.8"/>
<line x1="20.30" y1="296.60" x2="22.10" y2="296.60" stroke="#1e1e1e" stroke-width="0.7"/>
<text x="19.90" y="298.60" font-size="5.9" text-anchor="end" font-weight="normal" fill="#222" stroke="#222" stroke-width="0.18" >4</text>
<line x1="20.30" y1="309.00" x2="22.10" y2="309.00" stroke="#1e1e1e" stroke-width="0.7"/>
<text x="19.90" y="311.00" font-size="5.9" text-anchor="end" font-weight="normal" fill="#222" stroke="#222" stroke-width="0.18" >3</text>
<line x1="20.30" y1="321.50" x2="22.10" y2="321.50" stroke="#1e1e1e" stroke-width="0.7"/>
<text x="19.90" y="323.50" font-size="5.9" text-anchor="end" font-weight="normal" fill="#222" stroke="#222" stroke-width="0.18" >2</text>
<line x1="20.30" y1="333.90" x2="22.10" y2="333.90" stroke="#1e1e1e" stroke-width="0.7"/>
<text x="19.90" y="335.90" font-size="5.9" text-anchor="end" font-weight="normal" fill="#222" stroke="#222" stroke-width="0.18" >1</text>
<line x1="20.30" y1="347.00" x2="22.10" y2="347.00" stroke="#1e1e1e" stroke-width="0.7"/>
<text x="19.90" y="348.00" font-size="5.9" text-anchor="end" font-weight="normal" fill="#222" stroke="#222" stroke-width="0.18" >0</text>
<text transform="translate(11.00,322.00) rotate(-90)" font-size="5.7" text-anchor="middle" fill="#3a3a3a" stroke="#3a3a3a" stroke-width="0.18" textLength="46" lengthAdjust="spacing">Relative quantity</text>
<rect x="29.30" y="174.40" width="15.50" height="18.20" fill="#fff" stroke="#1e1e1e" stroke-width="0.7"/>
<rect x="30.50" y="178.05" width="3.00" height="2.30" fill="#cfcfcf" stroke="#9a9a9a" stroke-width="0.4"/>
<text x="34.00" y="180.90" font-size="5" text-anchor="start" font-weight="normal" fill="#222" stroke="#222" stroke-width="0.18" textLength="7.5" lengthAdjust="spacingAndGlyphs">ctrl</text>
<rect x="30.50" y="186.95" width="3.10" height="2.50" fill="#1c1c1c" stroke="none" stroke-width="0.5"/>
<text x="34.00" y="189.90" font-size="5" text-anchor="start" font-weight="normal" fill="#222" stroke="#222" stroke-width="0.18" textLength="8.5" lengthAdjust="spacingAndGlyphs">RTA</text>
<rect x="24.80" y="238.40" width="30.10" height="14.80" fill="#fff" stroke="#1e1e1e" stroke-width="0.7"/>
<rect x="26.60" y="241.00" width="3.90" height="2.80" fill="#cfcfcf" stroke="#9a9a9a" stroke-width="0.4"/>
<text x="32.80" y="244.10" font-size="5" text-anchor="start" font-weight="normal" fill="#222" stroke="#222" stroke-width="0.18" textLength="7.4" lengthAdjust="spacingAndGlyphs">ctrl</text>
<rect x="26.60" y="248.40" width="4.00" height="3.00" fill="#1c1c1c" stroke="none" stroke-width="0.5"/>
<text x="32.80" y="251.60" font-size="5" text-anchor="start" font-weight="normal" fill="#222" stroke="#222" stroke-width="0.18" textLength="19.2" lengthAdjust="spacingAndGlyphs">vGPCR</text>
<rect x="25.10" y="294.30" width="21.60" height="14.10" fill="#fff" stroke="#1e1e1e" stroke-width="0.7"/>
<rect x="28.00" y="296.80" width="3.90" height="2.80" fill="#cfcfcf" stroke="#9a9a9a" stroke-width="0.4"/>
<text x="33.80" y="299.90" font-size="5" text-anchor="start" font-weight="normal" fill="#222" stroke="#222" stroke-width="0.18" textLength="6.8" lengthAdjust="spacingAndGlyphs">ctrl</text>
<rect x="28.00" y="304.10" width="4.00" height="3.00" fill="#1c1c1c" stroke="none" stroke-width="0.5"/>
<text x="33.80" y="307.30" font-size="5" text-anchor="start" font-weight="normal" fill="#222" stroke="#222" stroke-width="0.18" textLength="10" lengthAdjust="spacingAndGlyphs">vIL6</text>
<text x="36.70" y="353.90" font-size="6.6" text-anchor="middle" font-weight="normal" fill="#222" stroke="#222" stroke-width="0.18" >Notch1</text>
<text x="57.90" y="353.90" font-size="6.6" text-anchor="middle" font-weight="normal" fill="#222" stroke="#222" stroke-width="0.18" >Notch2</text>
<text x="83.50" y="353.90" font-size="6.6" text-anchor="middle" font-weight="normal" fill="#222" stroke="#222" stroke-width="0.18" >Notch3</text>
<text x="106.20" y="353.90" font-size="6.6" text-anchor="middle" font-weight="normal" fill="#222" stroke="#222" stroke-width="0.18" >Notch4</text>
<text x="132.40" y="353.90" font-size="6.8" text-anchor="middle" font-weight="normal" fill="#222" stroke="#222" stroke-width="0.18" >Dll1</text>
<text x="155.00" y="353.90" font-size="6.8" text-anchor="middle" font-weight="normal" fill="#222" stroke="#222" stroke-width="0.18" >Dll4</text>
<text x="178.00" y="353.90" font-size="6.8" text-anchor="middle" font-weight="normal" fill="#222" stroke="#222" stroke-width="0.18" >Jag1</text>
<text x="202.50" y="353.90" font-size="6.8" text-anchor="middle" font-weight="normal" fill="#222" stroke="#222" stroke-width="0.18" >Jag2</text>
<text x="228.00" y="353.90" font-size="6.8" text-anchor="middle" font-weight="normal" fill="#222" stroke="#222" stroke-width="0.18" >Hey1</text>
<text x="251.75" y="353.90" font-size="6.8" text-anchor="middle" font-weight="normal" fill="#222" stroke="#222" stroke-width="0.18" >Hey2</text>
<text x="276.25" y="353.90" font-size="6.8" text-anchor="middle" font-weight="normal" fill="#222" stroke="#222" stroke-width="0.18" >Hes2</text>
<line x1="321.50" y1="54.50" x2="503.25" y2="54.50" stroke="#222" stroke-width="0.9"/>
<line x1="321.50" y1="67.50" x2="503.25" y2="67.50" stroke="#222" stroke-width="0.9"/>
<line x1="321.50" y1="80.50" x2="503.25" y2="80.50" stroke="#222" stroke-width="0.9"/>
<line x1="321.50" y1="93.25" x2="503.25" y2="93.25" stroke="#222" stroke-width="0.9"/>
<line x1="321.50" y1="106.25" x2="503.25" y2="106.25" stroke="#222" stroke-width="0.9"/>
<line x1="347.50" y1="42.00" x2="503.25" y2="42.00" stroke="#222" stroke-width="0.9"/>
<line x1="347.50" y1="23.40" x2="347.50" y2="119.50" stroke="#222" stroke-width="0.9"/>
<line x1="372.00" y1="42.00" x2="372.00" y2="119.50" stroke="#222" stroke-width="0.9"/>
<line x1="396.75" y1="23.40" x2="396.75" y2="119.50" stroke="#222" stroke-width="0.9"/>
<line x1="417.00" y1="42.00" x2="417.00" y2="119.50" stroke="#222" stroke-width="0.9"/>
<line x1="435.50" y1="42.00" x2="435.50" y2="119.50" stroke="#222" stroke-width="0.9"/>
<line x1="462.50" y1="23.40" x2="462.50" y2="119.50" stroke="#222" stroke-width="0.9"/>
<line x1="483.00" y1="42.00" x2="483.00" y2="119.50" stroke="#222" stroke-width="0.9"/>
<rect x="321.50" y="23.40" width="181.75" height="96.10" fill="none" stroke="#161616" stroke-width="1.4"/>
<text x="334.50" y="36.90" font-size="6.4" text-anchor="middle" font-weight="normal" fill="#222" stroke="#222" stroke-width="0.18" >KSHV</text>
<text x="334.50" y="44.40" font-size="6.4" text-anchor="middle" font-weight="normal" fill="#222" stroke="#222" stroke-width="0.18" >genes</text>
<text x="372.12" y="31.10" font-size="6.7" text-anchor="middle" font-weight="normal" fill="#222" stroke="#222" stroke-width="0.18" >Notch</text>
<text x="372.12" y="38.90" font-size="6.7" text-anchor="middle" font-weight="normal" fill="#222" stroke="#222" stroke-width="0.18" >receptors</text>
<text x="429.62" y="34.80" font-size="6.7" text-anchor="middle" font-weight="normal" fill="#222" stroke="#222" stroke-width="0.18" >Notch ligands</text>
<text x="482.88" y="31.10" font-size="6.7" text-anchor="middle" font-weight="normal" fill="#222" stroke="#222" stroke-width="0.18" >Notch</text>
<text x="482.88" y="38.90" font-size="6.7" text-anchor="middle" font-weight="normal" fill="#222" stroke="#222" stroke-width="0.18" >effectors</text>
<text x="359.75" y="50.60" font-size="6.7" text-anchor="middle" font-weight="normal" fill="#222" stroke="#222" stroke-width="0.18" >Notch2</text>
<text x="384.38" y="50.60" font-size="6.7" text-anchor="middle" font-weight="normal" fill="#222" stroke="#222" stroke-width="0.18" >Notch3</text>
<text x="406.88" y="50.60" font-size="6.7" text-anchor="middle" font-weight="normal" fill="#222" stroke="#222" stroke-width="0.18" >Dll1</text>
<text x="426.25" y="50.60" font-size="6.7" text-anchor="middle" font-weight="normal" fill="#222" stroke="#222" stroke-width="0.18" >Dll4</text>
<text x="449.00" y="50.60" font-size="6.7" text-anchor="middle" font-weight="normal" fill="#222" stroke="#222" stroke-width="0.18" >Jagged1</text>
<text x="472.75" y="50.60" font-size="6.7" text-anchor="middle" font-weight="normal" fill="#222" stroke="#222" stroke-width="0.18" >Hey1</text>
<text x="493.12" y="50.60" font-size="6.7" text-anchor="middle" font-weight="normal" fill="#222" stroke="#222" stroke-width="0.18" >Hey2</text>
<text x="334.50" y="63.30" font-size="6.7" text-anchor="middle" font-weight="normal" fill="#222" stroke="#222" stroke-width="0.18" >LANA</text>
<text x="359.75" y="63.20" font-size="8.5" text-anchor="middle" font-weight="normal" fill="#3a3a3a" stroke="#3a3a3a" stroke-width="0.18" >–</text>
<text x="384.38" y="63.20" font-size="8.5" text-anchor="middle" font-weight="normal" fill="#3a3a3a" stroke="#3a3a3a" stroke-width="0.18" >–</text>
<text x="406.88" y="63.20" font-size="8.5" text-anchor="middle" font-weight="normal" fill="#3a3a3a" stroke="#3a3a3a" stroke-width="0.18" >–</text>
<text x="426.25" y="62.40" font-size="4.4" text-anchor="middle" font-weight="bold" fill="#1a1a1a" stroke="#1a1a1a" stroke-width="0.18" >+</text>
<text x="449.00" y="63.20" font-size="8.5" text-anchor="middle" font-weight="normal" fill="#3a3a3a" stroke="#3a3a3a" stroke-width="0.18" >–</text>
<text x="472.75" y="62.40" font-size="4.4" text-anchor="middle" font-weight="bold" fill="#1a1a1a" stroke="#1a1a1a" stroke-width="0.18" >+</text>
<text x="493.12" y="63.20" font-size="8.5" text-anchor="middle" font-weight="normal" fill="#3a3a3a" stroke="#3a3a3a" stroke-width="0.18" >–</text>
<text x="334.50" y="76.30" font-size="6.7" text-anchor="middle" font-weight="normal" fill="#222" stroke="#222" stroke-width="0.18" >vFLIP</text>
<text x="359.75" y="76.20" font-size="8.5" text-anchor="middle" font-weight="normal" fill="#3a3a3a" stroke="#3a3a3a" stroke-width="0.18" >–</text>
<text x="384.38" y="76.20" font-size="8.5" text-anchor="middle" font-weight="normal" fill="#3a3a3a" stroke="#3a3a3a" stroke-width="0.18" >–</text>
<text x="406.88" y="76.20" font-size="8.5" text-anchor="middle" font-weight="normal" fill="#3a3a3a" stroke="#3a3a3a" stroke-width="0.18" >–</text>
<text x="426.25" y="75.40" font-size="4.4" text-anchor="middle" font-weight="bold" fill="#1a1a1a" stroke="#1a1a1a" stroke-width="0.18" >+</text>
<text x="449.00" y="76.20" font-size="8.5" text-anchor="middle" font-weight="normal" fill="#3a3a3a" stroke="#3a3a3a" stroke-width="0.18" >–</text>
<text x="472.75" y="75.40" font-size="4.4" text-anchor="middle" font-weight="bold" fill="#1a1a1a" stroke="#1a1a1a" stroke-width="0.18" >+</text>
<text x="493.12" y="76.20" font-size="8.5" text-anchor="middle" font-weight="normal" fill="#3a3a3a" stroke="#3a3a3a" stroke-width="0.18" >–</text>
<text x="334.50" y="89.17" font-size="6.7" text-anchor="middle" font-weight="normal" fill="#222" stroke="#222" stroke-width="0.18" >RTA</text>
<text x="359.75" y="88.28" font-size="4.4" text-anchor="middle" font-weight="bold" fill="#1a1a1a" stroke="#1a1a1a" stroke-width="0.18" >+</text>
<text x="384.38" y="89.08" font-size="8.5" text-anchor="middle" font-weight="normal" fill="#3a3a3a" stroke="#3a3a3a" stroke-width="0.18" >–</text>
<text x="406.88" y="89.08" font-size="8.5" text-anchor="middle" font-weight="normal" fill="#3a3a3a" stroke="#3a3a3a" stroke-width="0.18" >–</text>
<text x="426.25" y="88.28" font-size="4.4" text-anchor="middle" font-weight="bold" fill="#1a1a1a" stroke="#1a1a1a" stroke-width="0.18" >+</text>
<text x="449.00" y="88.28" font-size="4.4" text-anchor="middle" font-weight="bold" fill="#1a1a1a" stroke="#1a1a1a" stroke-width="0.18" >+</text>
<text x="472.75" y="88.28" font-size="4.4" text-anchor="middle" font-weight="bold" fill="#1a1a1a" stroke="#1a1a1a" stroke-width="0.18" >+</text>
<text x="493.12" y="88.28" font-size="4.4" text-anchor="middle" font-weight="bold" fill="#1a1a1a" stroke="#1a1a1a" stroke-width="0.18" >+</text>
<text x="334.50" y="102.05" font-size="6.7" text-anchor="middle" font-weight="normal" fill="#222" stroke="#222" stroke-width="0.18" >vGPCR</text>
<text x="359.75" y="101.15" font-size="4.4" text-anchor="middle" font-weight="bold" fill="#1a1a1a" stroke="#1a1a1a" stroke-width="0.18" >+</text>
<text x="384.38" y="101.15" font-size="4.4" text-anchor="middle" font-weight="bold" fill="#1a1a1a" stroke="#1a1a1a" stroke-width="0.18" >+</text>
<text x="406.88" y="101.95" font-size="8.5" text-anchor="middle" font-weight="normal" fill="#3a3a3a" stroke="#3a3a3a" stroke-width="0.18" >–</text>
<text x="426.25" y="101.95" font-size="8.5" text-anchor="middle" font-weight="normal" fill="#3a3a3a" stroke="#3a3a3a" stroke-width="0.18" >–</text>
<text x="449.00" y="101.15" font-size="4.4" text-anchor="middle" font-weight="bold" fill="#1a1a1a" stroke="#1a1a1a" stroke-width="0.18" >+</text>
<text x="472.75" y="101.15" font-size="4.4" text-anchor="middle" font-weight="bold" fill="#1a1a1a" stroke="#1a1a1a" stroke-width="0.18" >+</text>
<text x="493.12" y="101.95" font-size="8.5" text-anchor="middle" font-weight="normal" fill="#3a3a3a" stroke="#3a3a3a" stroke-width="0.18" >–</text>
<text x="334.50" y="115.17" font-size="6.7" text-anchor="middle" font-weight="normal" fill="#222" stroke="#222" stroke-width="0.18" >vIL6</text>
<text x="359.75" y="115.08" font-size="8.5" text-anchor="middle" font-weight="normal" fill="#3a3a3a" stroke="#3a3a3a" stroke-width="0.18" >–</text>
<text x="384.38" y="115.08" font-size="8.5" text-anchor="middle" font-weight="normal" fill="#3a3a3a" stroke="#3a3a3a" stroke-width="0.18" >–</text>
<text x="406.88" y="114.28" font-size="4.4" text-anchor="middle" font-weight="bold" fill="#1a1a1a" stroke="#1a1a1a" stroke-width="0.18" >+</text>
<text x="426.25" y="114.28" font-size="4.4" text-anchor="middle" font-weight="bold" fill="#1a1a1a" stroke="#1a1a1a" stroke-width="0.18" >+</text>
<text x="449.00" y="115.08" font-size="8.5" text-anchor="middle" font-weight="normal" fill="#3a3a3a" stroke="#3a3a3a" stroke-width="0.18" >–</text>
<text x="472.75" y="114.28" font-size="4.4" text-anchor="middle" font-weight="bold" fill="#1a1a1a" stroke="#1a1a1a" stroke-width="0.18" >+</text>
<text x="493.12" y="114.28" font-size="4.4" text-anchor="middle" font-weight="bold" fill="#1a1a1a" stroke="#1a1a1a" stroke-width="0.18" >+</text>
<rect x="343.55" y="213.80" width="12.50" height="24.60" fill="#b2b2b2" stroke="#808080" stroke-width="0.5"/>
<line x1="349.75" y1="208.60" x2="349.75" y2="218.40" stroke="#333" stroke-width="0.9"/>
<line x1="347.55" y1="208.60" x2="351.95" y2="208.60" stroke="#333" stroke-width="0.9"/>
<line x1="347.55" y1="218.40" x2="351.95" y2="218.40" stroke="#333" stroke-width="0.9"/>
<rect x="374.05" y="207.40" width="12.50" height="31.00" fill="#b2b2b2" stroke="#808080" stroke-width="0.5"/>
<line x1="380.25" y1="201.80" x2="380.25" y2="212.20" stroke="#333" stroke-width="0.9"/>
<line x1="378.05" y1="201.80" x2="382.45" y2="201.80" stroke="#333" stroke-width="0.9"/>
<line x1="378.05" y1="212.20" x2="382.45" y2="212.20" stroke="#333" stroke-width="0.9"/>
<rect x="404.30" y="209.20" width="12.50" height="29.20" fill="#b2b2b2" stroke="#808080" stroke-width="0.5"/>
<line x1="410.50" y1="197.50" x2="410.50" y2="219.20" stroke="#333" stroke-width="0.9"/>
<line x1="408.30" y1="197.50" x2="412.70" y2="197.50" stroke="#333" stroke-width="0.9"/>
<line x1="408.30" y1="219.20" x2="412.70" y2="219.20" stroke="#333" stroke-width="0.9"/>
<rect x="435.20" y="179.60" width="12.50" height="58.80" fill="#b2b2b2" stroke="#808080" stroke-width="0.5"/>
<line x1="441.40" y1="169.20" x2="441.40" y2="187.60" stroke="#333" stroke-width="0.9"/>
<line x1="439.20" y1="169.20" x2="443.60" y2="169.20" stroke="#333" stroke-width="0.9"/>
<line x1="439.20" y1="187.60" x2="443.60" y2="187.60" stroke="#333" stroke-width="0.9"/>
<rect x="465.55" y="222.40" width="12.50" height="16.00" fill="#b2b2b2" stroke="#808080" stroke-width="0.5"/>
<line x1="471.75" y1="220.30" x2="471.75" y2="224.60" stroke="#333" stroke-width="0.9"/>
<line x1="469.55" y1="220.30" x2="473.95" y2="220.30" stroke="#333" stroke-width="0.9"/>
<line x1="469.55" y1="224.60" x2="473.95" y2="224.60" stroke="#333" stroke-width="0.9"/>
<rect x="496.30" y="215.40" width="12.50" height="23.00" fill="#b2b2b2" stroke="#808080" stroke-width="0.5"/>
<line x1="502.50" y1="211.20" x2="502.50" y2="218.40" stroke="#333" stroke-width="0.9"/>
<line x1="500.30" y1="211.20" x2="504.70" y2="211.20" stroke="#333" stroke-width="0.9"/>
<line x1="500.30" y1="218.40" x2="504.70" y2="218.40" stroke="#333" stroke-width="0.9"/>
<line x1="334.40" y1="164.00" x2="334.40" y2="239.00" stroke="#1e1e1e" stroke-width="0.9"/>
<line x1="332.30" y1="238.50" x2="517.80" y2="238.50" stroke="#222" stroke-width="1.0"/>
<line x1="332.30" y1="164.25" x2="334.50" y2="164.25" stroke="#1e1e1e" stroke-width="0.7"/>
<line x1="332.30" y1="188.75" x2="334.50" y2="188.75" stroke="#1e1e1e" stroke-width="0.7"/>
<text x="331.60" y="190.85" font-size="5.9" text-anchor="end" font-weight="normal" fill="#222" stroke="#222" stroke-width="0.18" >2</text>
<line x1="332.30" y1="213.25" x2="334.50" y2="213.25" stroke="#1e1e1e" stroke-width="0.7"/>
<text x="331.60" y="215.35" font-size="5.9" text-anchor="end" font-weight="normal" fill="#222" stroke="#222" stroke-width="0.18" >1</text>
<line x1="332.30" y1="238.40" x2="334.50" y2="238.40" stroke="#1e1e1e" stroke-width="0.7"/>
<text x="331.60" y="237.20" font-size="5.9" text-anchor="end" font-weight="normal" fill="#222" stroke="#222" stroke-width="0.18" >0</text>
<line x1="365.00" y1="238.40" x2="365.00" y2="240.40" stroke="#1e1e1e" stroke-width="0.7"/>
<line x1="395.50" y1="238.40" x2="395.50" y2="240.40" stroke="#1e1e1e" stroke-width="0.7"/>
<line x1="426.00" y1="238.40" x2="426.00" y2="240.40" stroke="#1e1e1e" stroke-width="0.7"/>
<line x1="456.50" y1="238.40" x2="456.50" y2="240.40" stroke="#1e1e1e" stroke-width="0.7"/>
<line x1="487.00" y1="238.40" x2="487.00" y2="240.40" stroke="#1e1e1e" stroke-width="0.7"/>
<line x1="517.50" y1="238.40" x2="517.50" y2="240.40" stroke="#1e1e1e" stroke-width="0.7"/>
<text x="349.75" y="244.80" font-size="6.2" text-anchor="middle" font-weight="normal" fill="#222" stroke="#222" stroke-width="0.18" >Ctrl</text>
<text x="380.25" y="244.80" font-size="6.2" text-anchor="middle" font-weight="normal" fill="#222" stroke="#222" stroke-width="0.18" >LANA</text>
<text x="410.50" y="244.80" font-size="6.2" text-anchor="middle" font-weight="normal" fill="#222" stroke="#222" stroke-width="0.18" >vFLIP</text>
<text x="441.40" y="244.80" font-size="6.2" text-anchor="middle" font-weight="normal" fill="#222" stroke="#222" stroke-width="0.18" >RTA</text>
<text x="471.75" y="244.80" font-size="6.2" text-anchor="middle" font-weight="normal" fill="#222" stroke="#222" stroke-width="0.18" >vGPCR</text>
<text x="502.50" y="244.80" font-size="6.2" text-anchor="middle" font-weight="normal" fill="#222" stroke="#222" stroke-width="0.18" >vIL6</text>
<text transform="translate(322.90,203.00) rotate(-90)" font-size="6.0" text-anchor="middle" fill="#3a3a3a" stroke="#3a3a3a" stroke-width="0.18" textLength="62.4" lengthAdjust="spacing">Relative RNA quantity</text>
<text x="411.3" y="180.2" font-size="7.8" font-weight="bold" text-anchor="middle" fill="#111" stroke="#111" stroke-width="0.25" font-family='"Liberation Serif", serif'>CD133</text>
</g>
</svg>
</body>
</html>
